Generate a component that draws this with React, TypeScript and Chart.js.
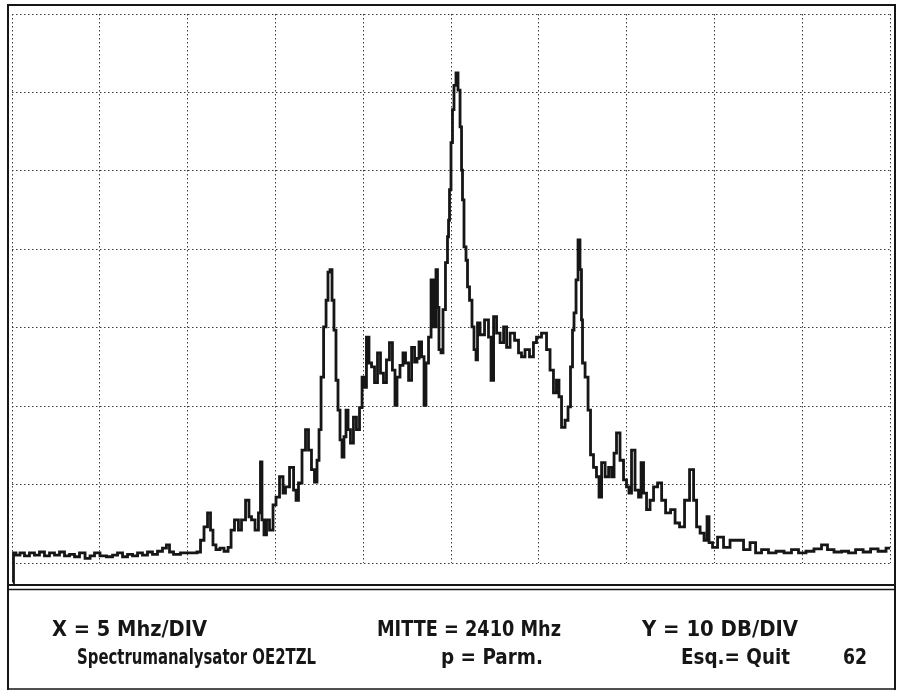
import React, { useEffect, useRef } from "react";
import { Chart, registerables } from "chart.js";

Chart.register(...registerables);

// Frequency axis: MITTE = 2410 MHz, 5 MHz/DIV, 10 divisions
const freqMin = 2385;
const freqMax = 2435;
const freqStep = 5;
// Level axis: 10 dB/DIV, 7 divisions
const levelMin = -70;
const levelMax = 0;
const levelStep = 10;

// Trace (MHz, dB)
const freqMHz = [
  2385.06, 2385.11, 2385.34, 2385.57, 2385.85, 2386.14, 2386.42, 2386.71, 2386.99, 2387.28,
  2387.56, 2387.85, 2388.13, 2388.42, 2388.70, 2388.99, 2389.33, 2389.56, 2389.84, 2390.18,
  2390.58, 2390.87, 2391.15, 2391.44, 2391.72, 2392.01, 2392.29, 2392.57, 2392.86, 2393.14,
  2393.43, 2393.71, 2393.88, 2394.06, 2394.34, 2394.85, 2395.42, 2395.65, 2395.82, 2396.05,
  2396.22, 2396.39, 2396.50, 2396.73, 2396.96, 2397.19, 2397.42, 2397.53, 2397.81, 2397.98,
  2398.16, 2398.44, 2398.55, 2398.73, 2398.95, 2399.12, 2399.18, 2399.29, 2399.41, 2399.58,
  2399.75, 2399.98, 2400.09, 2400.38, 2400.49, 2400.66, 2400.95, 2401.12, 2401.23, 2401.40,
  2401.63, 2401.80, 2401.97, 2402.14, 2402.31, 2402.43, 2402.54, 2402.66, 2402.83, 2402.94,
  2403.05, 2403.17, 2403.28, 2403.39, 2403.51, 2403.62, 2403.74, 2403.85, 2403.96, 2404.08,
  2404.19, 2404.36, 2404.53, 2404.70, 2404.88, 2404.99, 2405.10, 2405.27, 2405.39, 2405.56,
  2405.73, 2405.90, 2406.07, 2406.24, 2406.41, 2406.58, 2406.75, 2406.87, 2406.98, 2407.21,
  2407.32, 2407.50, 2407.67, 2407.84, 2408.01, 2408.12, 2408.24, 2408.41, 2408.52, 2408.63,
  2408.81, 2408.92, 2409.09, 2409.20, 2409.26, 2409.37, 2409.49, 2409.60, 2409.77, 2409.83,
  2409.89, 2409.94, 2410.06, 2410.11, 2410.23, 2410.34, 2410.46, 2410.57, 2410.63, 2410.68,
  2410.80, 2410.91, 2410.97, 2411.14, 2411.25, 2411.37, 2411.48, 2411.54, 2411.77, 2412.05,
  2412.22, 2412.34, 2412.51, 2412.68, 2412.91, 2413.08, 2413.25, 2413.48, 2413.76, 2413.93,
  2414.10, 2414.33, 2414.61, 2414.78, 2414.96, 2415.35, 2415.53, 2415.75, 2415.92, 2416.09,
  2416.21, 2416.38, 2416.61, 2416.72, 2416.89, 2416.95, 2417.06, 2417.18, 2417.29, 2417.40,
  2417.46, 2417.52, 2417.75, 2417.86, 2418.03, 2418.20, 2418.37, 2418.49, 2418.66, 2418.89,
  2419.06, 2419.23, 2419.34, 2419.51, 2419.74, 2419.91, 2420.08, 2420.19, 2420.37, 2420.59,
  2420.77, 2420.88, 2421.05, 2421.22, 2421.45, 2421.62, 2421.91, 2422.08, 2422.36, 2422.65,
  2422.87, 2423.16, 2423.44, 2423.73, 2423.90, 2424.07, 2424.30, 2424.52, 2424.64, 2424.75,
  2425.04, 2425.32, 2425.72, 2426.06, 2426.46, 2426.86, 2427.20, 2427.49, 2427.88, 2428.28,
  2428.74, 2429.19, 2429.59, 2429.99, 2430.44, 2430.90, 2431.30, 2431.58, 2432.04, 2432.44,
  2432.84, 2433.24, 2433.70, 2434.09, 2434.55, 2435.00,
];

const levelDb = [
  -72.5, -68.7, -69.0, -68.7, -69.1, -68.7, -69.0, -68.6, -69.1, -68.7,
  -69.0, -68.6, -69.1, -68.9, -69.2, -68.7, -69.4, -69.1, -68.7, -69.1,
  -69.2, -69.0, -68.7, -69.2, -68.9, -69.1, -68.7, -69.0, -68.6, -68.9,
  -68.5, -68.1, -67.7, -68.6, -68.9, -68.7, -68.7, -68.6, -67.1, -65.4,
  -63.6, -65.8, -67.7, -68.3, -68.1, -68.5, -68.0, -65.8, -64.5, -65.8,
  -64.5, -62.0, -64.1, -64.5, -65.8, -63.6, -57.1, -64.5, -66.4, -64.5,
  -65.8, -62.6, -61.6, -59.0, -61.1, -60.3, -57.8, -60.7, -62.0, -59.8,
  -55.6, -53.0, -55.6, -58.1, -59.7, -56.9, -53.0, -46.3, -39.9, -36.5,
  -32.9, -32.6, -36.5, -40.3, -46.7, -50.5, -54.3, -56.5, -53.9, -50.5,
  -53.0, -54.7, -51.4, -53.0, -50.2, -46.3, -47.6, -41.2, -44.5, -45.0,
  -47.0, -43.2, -45.8, -47.0, -44.1, -41.9, -45.4, -49.9, -46.3, -44.8,
  -43.2, -44.5, -46.7, -42.5, -44.4, -43.9, -41.8, -43.7, -49.9, -44.5,
  -41.2, -33.9, -39.9, -32.6, -37.4, -42.8, -43.2, -37.7, -31.7, -28.4,
  -26.3, -22.4, -16.4, -12.2, -9.1, -7.5, -9.7, -14.4, -19.9, -23.7,
  -29.7, -31.4, -34.8, -36.5, -39.9, -42.8, -44.1, -39.4, -40.9, -39.0,
  -41.2, -46.7, -38.6, -40.7, -41.9, -39.9, -42.5, -40.7, -41.6, -43.2,
  -43.7, -42.8, -43.7, -41.9, -41.2, -40.7, -42.8, -45.4, -48.3, -46.7,
  -48.8, -52.7, -51.8, -50.1, -45.0, -40.3, -38.1, -33.9, -28.8, -32.6,
  -39.0, -44.5, -46.3, -50.5, -56.2, -57.8, -59.0, -61.6, -57.2, -59.0,
  -57.8, -59.0, -56.0, -53.4, -56.9, -59.4, -60.3, -61.1, -55.6, -60.7,
  -61.6, -57.2, -61.1, -63.2, -62.0, -60.3, -59.8, -62.0, -63.6, -63.2,
  -64.9, -65.4, -62.0, -58.1, -62.0, -65.4, -66.2, -67.1, -64.1, -67.4,
  -68.0, -66.7, -68.0, -67.1, -67.1, -68.3, -67.4, -68.7, -68.3, -68.7,
  -68.5, -68.7, -68.3, -68.7, -68.5, -68.2, -67.7, -68.3, -68.6, -68.5,
  -68.7, -68.3, -68.6, -68.2, -68.5, -68.1,
];

// Status lines of the analyzer screen
const statusRow1 = ["X = 5 Mhz/DIV", "MITTE = 2410 Mhz", "Y = 10 DB/DIV"];
const statusRow2 = ["Spectrumanalysator OE2TZL", "p = Parm.", "Esq.= Quit", "62"];

const INK = "#161616";

const framePlugin = {
  id: "analyzerFrame",
  afterDraw(chart: any) {
    const ctx = chart.ctx as CanvasRenderingContext2D;
    ctx.save();
    ctx.strokeStyle = INK;
    ctx.lineCap = "butt";
    // outer frame
    ctx.lineWidth = 2;
    ctx.beginPath();
    ctx.moveTo(8, 690);
    ctx.lineTo(8, 5);
    ctx.lineTo(895, 5);
    ctx.lineTo(895, 690);
    ctx.stroke();
    ctx.lineWidth = 1.5;
    ctx.beginPath();
    ctx.moveTo(8, 689);
    ctx.lineTo(895, 689);
    ctx.stroke();
    // double separator line
    ctx.lineWidth = 2;
    ctx.beginPath();
    ctx.moveTo(8, 585);
    ctx.lineTo(895, 585);
    ctx.stroke();
    ctx.lineWidth = 1.5;
    ctx.beginPath();
    ctx.moveTo(8, 589.5);
    ctx.lineTo(895, 589.5);
    ctx.stroke();

    // status text
    ctx.fillStyle = INK;
    ctx.font = 'bold 22px "DejaVu Sans Condensed", "DejaVu Sans", sans-serif';
    ctx.textBaseline = "alphabetic";
    const fit = (t: string, x1: number, x2: number, y: number) => {
      const w = ctx.measureText(t).width;
      ctx.save();
      ctx.translate(x1, y);
      ctx.scale((x2 - x1) / w, 1);
      ctx.fillText(t, 0, 0);
      ctx.restore();
    };
    fit(statusRow1[0], 52, 207, 636);
    fit(statusRow1[1], 377, 561, 636);
    fit(statusRow1[2], 642, 798, 636);
    fit(statusRow2[0], 77, 316, 664);
    fit(statusRow2[1], 441, 543, 664);
    fit(statusRow2[2], 681, 790, 664);
    fit(statusRow2[3], 843, 867, 664);
    ctx.restore();
  },
};

export default function App() {
  const ref = useRef<HTMLCanvasElement | null>(null);

  useEffect(() => {
    if (!ref.current) return;
    const chart = new Chart(ref.current, {
      type: "line",
      data: {
        datasets: [
          {
            data: freqMHz.map((f, i) => ({ x: f, y: levelDb[i] })),
            borderColor: INK,
            borderWidth: 2.8,
            pointRadius: 0,
            stepped: "middle",
            clip: false,
            fill: false,
          },
        ],
      },
      options: {
        responsive: false,
        animation: false,
        maintainAspectRatio: false,
        layout: { padding: { left: 12, top: 14, right: 12, bottom: 129 } },
        plugins: { legend: { display: false }, tooltip: { enabled: false } },
        scales: {
          x: {
            type: "linear",
            min: freqMin,
            max: freqMax,
            ticks: { display: false, stepSize: freqStep },
            grid: { color: "#3a3a3a", lineWidth: 1, drawTicks: false },
            border: { display: false, dash: [1.5, 2.5] },
          },
          y: {
            type: "linear",
            min: levelMin,
            max: levelMax,
            ticks: { display: false, stepSize: levelStep },
            grid: { color: "#3a3a3a", lineWidth: 1, drawTicks: false },
            border: { display: false, dash: [1.5, 2.5] },
          },
        },
      },
      plugins: [framePlugin],
    });
    return () => chart.destroy();
  }, []);

  return (
    <div style={{ position: "absolute", left: 0, top: 0, width: 902, height: 692, background: "#ffffff" }}>
      <canvas ref={ref} width={902} height={692} style={{ display: "block" }} />
    </div>
  );
}
